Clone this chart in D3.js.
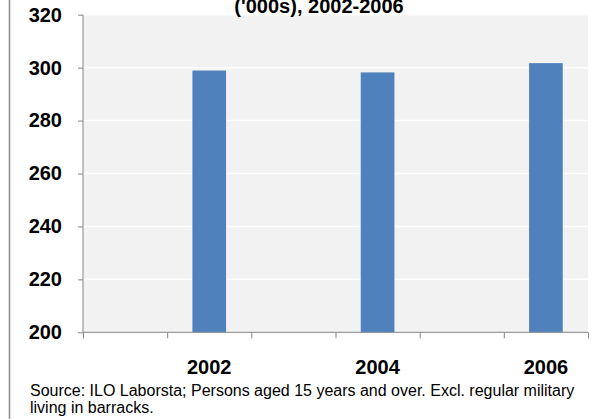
<!DOCTYPE html>
<html lang="en">

<head>
    <meta charset="UTF-8">
    <title>Employment chart</title>
    <script src="https://unpkg.com/d3@7.8.0/dist/d3.min.js"></script>
    <style>
        body {
            margin: 0px;
            background: #ffffff;
        }

        text {
            font-family: "Liberation Sans", Arial, sans-serif;
        }
    </style>
</head>

<body>

    <script>
        // category slots on the x axis (bars only in every second slot)
        const years = ['2001', '2002', '2003', '2004', '2005', '2006'];
        const values = [null, 298.9, null, 298.2, null, 301.7];
        const yearLabels = ['2002', '2004', '2006'];
        const yTicks = [200, 220, 240, 260, 280, 300, 320];
        const titleLine = "('000s), 2002-2006";
        const sourceLines = [
            'Source: ILO Laborsta; Persons aged 15 years and over. Excl. regular military',
            'living in barracks.'
        ];

        const width = 603;
        const height = 419;
        const margin = { top: 14.7, right: 15, bottom: 86.7, left: 83 };
        const innerwidth = width - margin.left - margin.right;
        const innerheight = height - margin.top - margin.bottom;

        const svg = d3.select('body').append('svg')
            .attr('width', width)
            .attr('height', height);

        // left border of the chart box
        svg.append('line')
            .attr('x1', 9.5).attr('x2', 9.5)
            .attr('y1', 0).attr('y2', height)
            .attr('stroke', '#8c8c8c')
            .attr('stroke-width', 1.5);

        const g = svg.append('g')
            .attr('transform', `translate(${margin.left}, ${margin.top})`);

        const xScale = d3.scaleBand()
            .domain(years)
            .range([0, innerwidth]);

        const yScale = d3.scaleLinear()
            .domain([200, 320])
            .range([innerheight, 0]);

        // plot area
        g.append('rect')
            .attr('width', innerwidth)
            .attr('height', innerheight)
            .attr('fill', '#f2f2f2');

        // gridlines
        g.selectAll('.grid').data(yTicks.slice(1)).enter().append('line')
            .attr('class', 'grid')
            .attr('x1', 0).attr('x2', innerwidth)
            .attr('y1', d => yScale(d)).attr('y2', d => yScale(d))
            .attr('stroke', '#ffffff')
            .attr('stroke-width', 1.5);

        // bars
        const barW = xScale.bandwidth() * 0.4;
        const data = years.map((y, i) => ({ year: y, value: values[i] }))
            .filter(d => d.value !== null);
        g.selectAll('.bar').data(data).enter().append('rect')
            .attr('class', 'bar')
            .attr('x', d => xScale(d.year) + (xScale.bandwidth() - barW) / 2)
            .attr('y', d => yScale(d.value))
            .attr('width', barW)
            .attr('height', d => innerheight - yScale(d.value))
            .attr('fill', '#4f81bd');

        // Y axis
        const yAxisG = g.append('g')
            .call(d3.axisLeft(yScale).tickValues(yTicks).tickSize(5).tickPadding(16));
        yAxisG.selectAll('.tick text')
            .style('font-size', '20px')
            .style('font-weight', 'bold')
            .attr('fill', '#000000');
        yAxisG.selectAll('.tick line').attr('stroke', '#868686');
        yAxisG.select('.domain').attr('stroke', '#868686').attr('d', `M0,0V${innerheight}`);

        // X axis: ticks on slot boundaries, labels on slot centres
        const edgeScale = d3.scaleLinear().domain([0, years.length]).range([0, innerwidth]);
        const xAxisG = g.append('g')
            .attr('transform', `translate(0, ${innerheight})`)
            .call(d3.axisBottom(edgeScale).ticks(years.length).tickSize(6).tickFormat(''));
        xAxisG.selectAll('.tick line').attr('stroke', '#868686');
        xAxisG.select('.domain').attr('stroke', '#868686').attr('d', `M0,0H${innerwidth}`);

        g.selectAll('.xlabel').data(yearLabels).enter().append('text')
            .attr('class', 'xlabel')
            .attr('x', d => xScale(d) + xScale.bandwidth() / 2)
            .attr('y', innerheight + 41.7)
            .attr('text-anchor', 'middle')
            .style('font-size', '20px')
            .style('font-weight', 'bold')
            .text(d => d);

        // title (its first line lies above the picture, as in the source image)
        svg.append('text')
            .attr('x', 319)
            .attr('y', 12.5)
            .attr('text-anchor', 'middle')
            .style('font-size', '20px')
            .style('font-weight', 'bold')
            .text(titleLine);

        // source note
        svg.selectAll('.source').data(sourceLines).enter().append('text')
            .attr('class', 'source')
            .attr('x', 30)
            .attr('y', (d, i) => 396 + i * 16.5)
            .style('font-size', '16px')
            .attr('fill', '#000000')
            .text(d => d);
    </script>

</body>

</html>
